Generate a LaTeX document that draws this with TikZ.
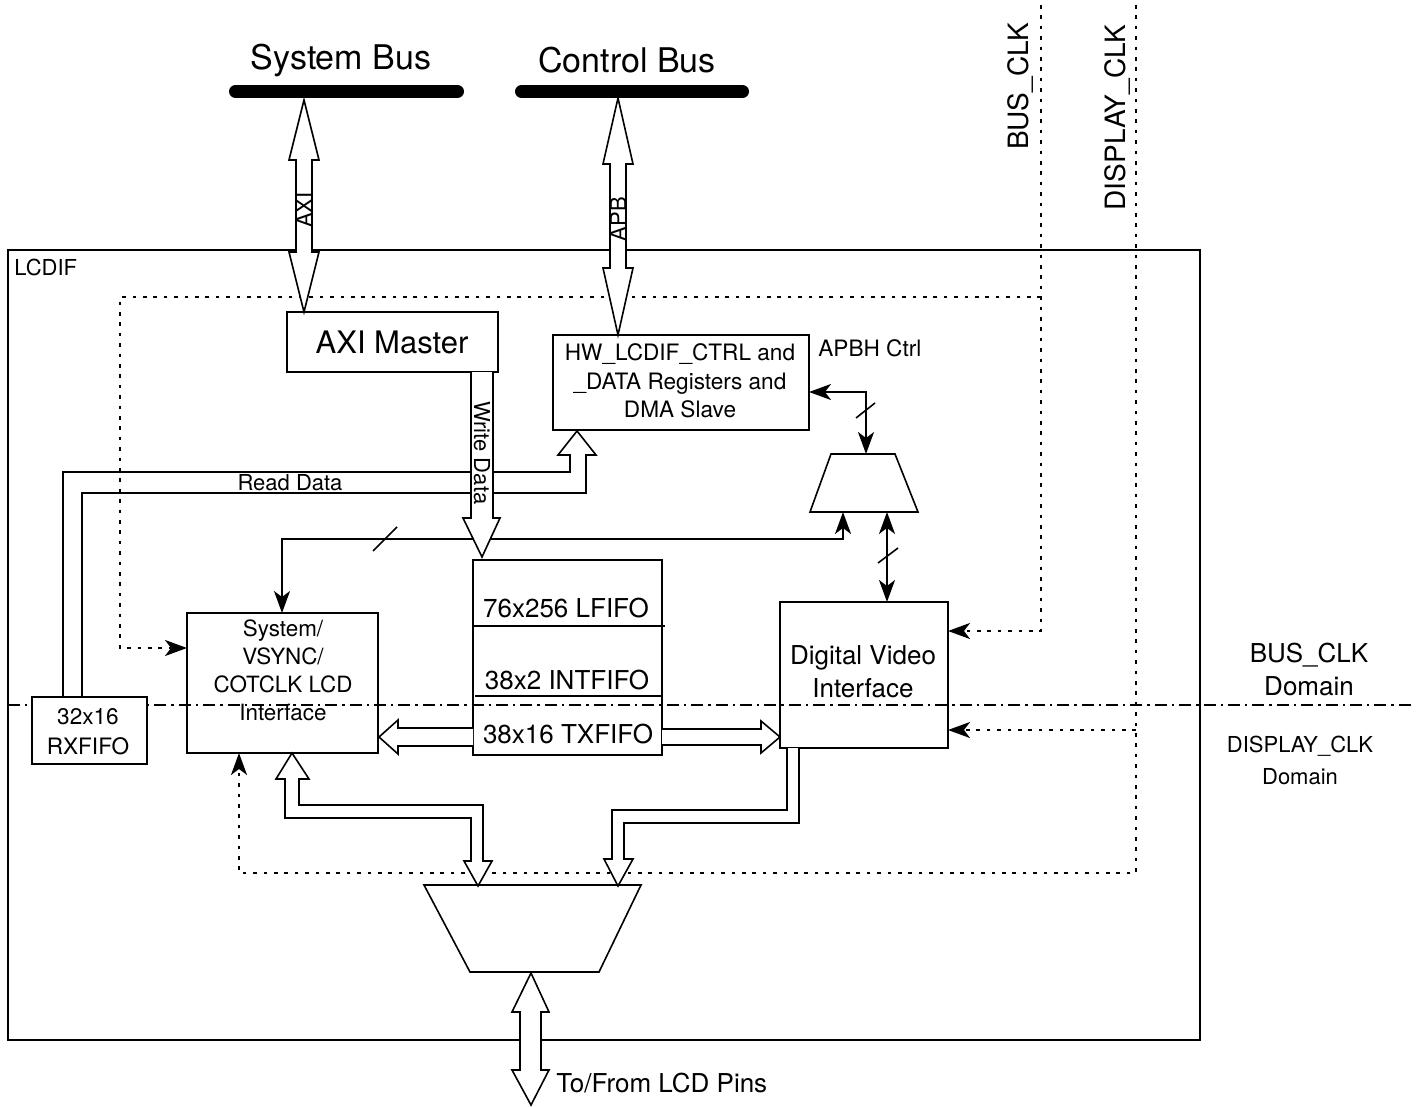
\documentclass[tikz,border=0pt]{standalone}
\usepackage{fontspec}
\setmainfont{TeX Gyre Heros}
\usetikzlibrary{arrows.meta,calc}
\newcommand\myfs[2]{\fontsize{#1}{#2}\selectfont}
\begin{document}
\begin{tikzpicture}[x=0.5pt,y=-0.5pt,
  >={Stealth[length=11pt,width=8pt,inset=3pt]},
  box/.style={draw,line width=1pt,inner sep=0pt},
  hol/.style={draw,line width=0.8pt,fill=white,line join=miter},
  holo/.style={draw,line width=0.8pt,line join=miter},
  conn/.style={line width=1pt},
  dotl/.style={line width=1pt,dash pattern=on 1.8pt off 3.4pt},
  ddot/.style={line width=0.9pt,dash pattern=on 6pt off 2.5pt on 1.2pt off 2.5pt},
  bus/.style={line width=6.5pt,line cap=round},
  slash/.style={line width=0.8pt},
  mux/.style={draw,line width=0.8pt,line join=miter},
  txt/.style={inner sep=0pt}
]
\useasboundingbox (0,0) rectangle (1419,1107);

% ---- buses
\coordinate (sbl) at (235.5,91.5); \coordinate (sbr) at (457.5,91.5);
\coordinate (cbl) at (521.5,91.5); \coordinate (cbr) at (742.5,91.5);
\draw[bus] (sbl) -- (sbr);
\draw[bus] (cbl) -- (cbr);
\node[txt,anchor=base,font=\myfs{17pt}{20pt}] (sbt) at (341,70) {System Bus};
\node[txt,anchor=base,font=\myfs{17pt}{20pt}] (cbt) at (627,73) {Control Bus};

% ---- outer block
\node[box,minimum width=596pt,minimum height=395pt] (lcdif) at (604,645) {};
\node[txt,anchor=base west,font=\myfs{11pt}{13pt}] (lcdift) at (14,276) {LCDIF};

% ---- clock labels
\node[txt,rotate=90,anchor=base east,font=\myfs{14pt}{16pt}] (bclkt) at (1028,22) {BUS\_CLK};
\node[txt,rotate=90,anchor=base east,font=\myfs{14pt}{16pt}] (dclkt) at (1125,24) {DISPLAY\_CLK};
\node[txt,align=center,font=\myfs{13pt}{16.5pt}] (bdom) at (1309,669) {BUS\_CLK\\Domain};
\node[txt,align=center,font=\myfs{11pt}{16pt}] (ddom) at (1300,760) {DISPLAY\_CLK\\Domain};

% ---- domain separator
\draw[ddot] (8,705) -- (1412,705);

% ---- blocks
\node[box,minimum width=105.5pt,minimum height=30pt] (axi) at (392.5,342) {};
\node[txt,anchor=base,font=\myfs{15.5pt}{18pt}] (axit) at (392,353) {AXI Master};
\node[box,minimum width=128pt,minimum height=47.5pt] (regs) at (681,382.5) {};
\node[txt,align=center,font=\myfs{11.3pt}{14.3pt}] (regst) at (680,381) {HW\_LCDIF\_CTRL and\\\_DATA Registers and\\DMA Slave};
\node[txt,anchor=base west,font=\myfs{11.3pt}{13pt}] (apbh) at (818,357) {APBH Ctrl};
\node[box,minimum width=95.5pt,minimum height=70pt] (sys) at (282.5,683) {};
\node[txt,align=center,font=\myfs{11.2pt}{14pt}] (syst) at (283,670) {System/\\VSYNC/\\COTCLK LCD\\Interface};
\node[box,fill=white,minimum width=57.5pt,minimum height=33.5pt] (rx) at (89.5,730.5) {};
\node[txt,align=center,font=\myfs{11.3pt}{15pt}] (rxt) at (88,732) {32x16\\RXFIFO};
\node[box,minimum width=94.5pt,minimum height=97.5pt] (fifo) at (567.5,657.5) {};
\draw[line width=0.8pt] (473,626) -- (665,626);
\draw[line width=0.8pt] (475,696) -- (662,696);
\node[txt,anchor=base,font=\myfs{13pt}{15pt}] (lf) at (566,617) {76x256 LFIFO};
\node[txt,anchor=base,font=\myfs{13pt}{15pt}] (inf) at (567,689) {38x2 INTFIFO};
\node[txt,anchor=base,font=\myfs{13pt}{15pt}] (txf) at (568,743) {38x16 TXFIFO};
\node[box,minimum width=84pt,minimum height=73pt] (dvi) at (864,675) {};
\node[txt,align=center,font=\myfs{13pt}{16.5pt}] (dvit) at (863,672) {Digital Video\\Interface};

% ---- muxes
\coordinate (m1a) at (831,454); \coordinate (m1b) at (895,454);
\coordinate (m1c) at (918,512); \coordinate (m1d) at (810,512);
\draw[mux] (m1a) -- (m1b) -- (m1c) -- (m1d) -- cycle;
\coordinate (m2a) at (424,885); \coordinate (m2b) at (641,885);
\coordinate (m2c) at (599,972); \coordinate (m2d) at (470,972);
\draw[mux] (m2a) -- (m2b) -- (m2c) -- (m2d) -- cycle;

% ---- clock distribution (dotted)
\coordinate (bclk) at (1041,5);
\coordinate (dclk) at (1136,5);
\coordinate (dviin1) at (948,631);
\coordinate (dviin2) at (948,730);
\coordinate (sysin) at (187,648);
\coordinate (sysclk) at (239,753);
\draw[dotl,->] (bclk) |- (dviin1);
\draw[dotl,->] (1041,297) -| (120,648) -- (sysin);
\draw[dotl,->] (dclk) -- (1136,873) -| (sysclk);
\draw[dotl,->] (1136,730) -- (dviin2);

% ---- control connectors
\coordinate (regsp) at (809,392);
\coordinate (m1top) at (866,454);
\coordinate (m1bl) at (843,512);
\coordinate (m1br) at (887,512);
\coordinate (systop) at (282,613);
\coordinate (dvitop) at (887,602);
\draw[conn,<->] (regsp) -| (m1top);
\draw[conn,<->] (m1bl) -- ++(0,27) -| (systop);
\draw[conn,<->] (m1br) -- (dvitop);
\draw[slash] (856,418) -- (875,403);
\draw[slash] (373,551) -- (397,527);
\draw[slash] (878,563) -- (898,548);

% ---- data paths (hollow arrows)
\draw[holo] (63,697) -- (63,472) -- (570,472) -- (570,455) -- (558,455) -- (577,431)
  -- (596,455) -- (586,455) -- (586,493) -- (82,493) -- (82,697);
\node[txt,anchor=base,font=\myfs{11pt}{13pt}] (rdt) at (290,490) {Read Data};

\draw[hol] (471,372) -- (471,518) -- (463,518) -- (482,557) -- (500,518) -- (493,518) -- (493,372);
\node[txt,rotate=-90,font=\myfs{11pt}{13pt}] (wdt) at (482,453) {Write Data};

\draw[hol] (304,100) -- (319,160) -- (312,160) -- (312,252) -- (319,252) -- (304,312)
  -- (289,252) -- (296,252) -- (296,160) -- (289,160) -- cycle;
\node[txt,rotate=90,font=\myfs{11pt}{13pt}] (axil) at (304,210) {AXI};

\draw[hol] (618,98) -- (633,164) -- (626,164) -- (626,268) -- (633,268) -- (618,335)
  -- (603,268) -- (610,268) -- (610,164) -- (603,164) -- cycle;
\node[txt,rotate=90,font=\myfs{11pt}{13pt}] (apbl) at (618,219) {APB};

\draw[hol] (473,728) -- (398,728) -- (398,720) -- (379,737) -- (398,754) -- (398,746) -- (473,746);
\draw[hol] (662,729) -- (761,729) -- (761,721) -- (780,737) -- (761,753) -- (761,745) -- (662,745);

\draw[hol] (292,753) -- (309,779) -- (299,779) -- (299,805) -- (483,805) -- (483,861)
  -- (492,861) -- (478,886) -- (464,861) -- (471,861) -- (471,818) -- (285,818)
  -- (285,779) -- (276,779) -- cycle;
\draw[hol] (787,748) -- (787,810) -- (612,810) -- (612,859) -- (604,859) -- (618,886)
  -- (633,859) -- (624,859) -- (624,823) -- (799,823) -- (799,748);

\draw[hol] (531,973) -- (549,1012) -- (541,1012) -- (541,1070) -- (549,1070) -- (531,1105)
  -- (512,1070) -- (520,1070) -- (520,1012) -- (512,1012) -- cycle;
\node[txt,anchor=base west,font=\myfs{13pt}{15pt}] (lcdp) at (556,1092) {To/From LCD Pins};
\end{tikzpicture}
\end{document}
